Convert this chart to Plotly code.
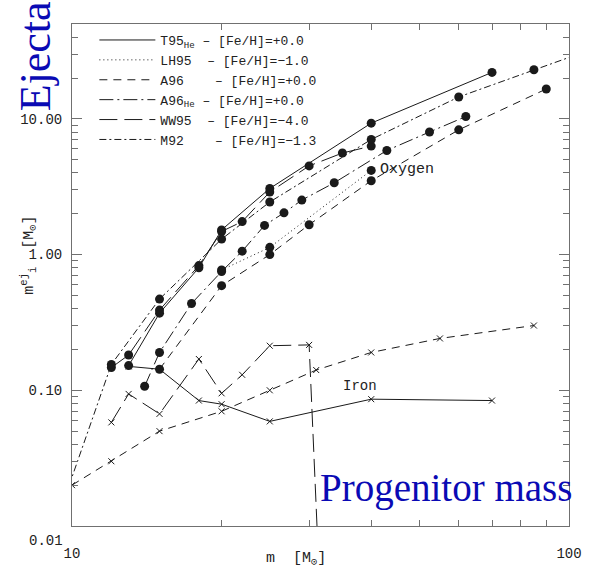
import plotly.graph_objects as go

# ---- oxygen ejecta (filled circles) ----
t95he_o_m = [13, 15, 18, 20, 25, 40, 70]
t95he_o_y = [0.152, 0.37, 0.80, 1.52, 3.07, 9.3, 22.0]

lh95_o_m = [20, 25, 40]
lh95_o_y = [0.77, 1.13, 4.17]

a96_o_m = [15, 20, 25, 30, 40, 60, 90]
a96_o_y = [0.143, 0.59, 1.0, 1.66, 3.5, 8.3, 16.6]

a96he_o_m = [14, 15, 17.4, 20, 22, 24.4, 26.7, 29, 33.7, 43, 52.4, 62]
a96he_o_y = [0.107, 0.19, 0.436, 0.75, 1.06, 1.64, 2.03, 2.52, 3.38, 5.85, 8.0, 10.4]

ww95_o_m = [12, 13, 15, 18, 20, 22, 25, 30, 35, 40]
ww95_o_y = [0.147, 0.182, 0.39, 0.83, 1.48, 1.75, 2.89, 4.5, 5.6, 6.3]

m92_o_m = [9, 12, 15, 20, 25, 40, 60, 85, 120]
m92_o_y = [0.0076, 0.155, 0.47, 1.30, 2.44, 7.05, 14.5, 23.0, 36.0]

# ---- iron ejecta (crosses) ----
t95he_fe_m = [13, 15, 18, 20, 25, 40, 70]
t95he_fe_y = [0.150, 0.143, 0.084, 0.079, 0.059, 0.086, 0.084]

a96_fe_m = [10, 12, 15, 20, 25, 31, 40, 55, 85]
a96_fe_y = [0.020, 0.030, 0.050, 0.070, 0.100, 0.141, 0.19, 0.241, 0.30]

ww95_fe_m = [12, 13, 15, 18, 20, 22, 25, 30, 35]
ww95_fe_y = [0.058, 0.094, 0.067, 0.17, 0.095, 0.13, 0.213, 0.216, 5e-7]

# ---- legend labels and line styles ----
NB = "\u00a0"
legend_labels = [
    "T95<sub>He</sub>" + NB + "–" + NB + "[Fe/H]=+0.0",
    "LH95" + NB * 2 + "–" + NB + "[Fe/H]=−1.0",
    "A96" + NB * 4 + "–" + NB + "[Fe/H]=+0.0",
    "A96<sub>He</sub>" + NB + "–" + NB + "[Fe/H]=+0.0",
    "WW95" + NB * 2 + "–" + NB + "[Fe/H]=−4.0",
    "M92" + NB * 4 + "–" + NB + "[Fe/H]=−1.3",
]
dashes = [
    "solid",
    "1px,3px",
    "8px,6px",
    "14px,4px,2px,4px",
    "18px,7px",
    "7px,3px,2px,3px",
]

INK = "#1a1a1a"
TXT = "#222222"
BLUE = "#0a0ab4"
MONO = "Liberation Mono, Courier New, monospace"
SERIF = "Liberation Serif, Times New Roman, serif"

fig = go.Figure()

oxygen = [
    (t95he_o_m, t95he_o_y),
    (lh95_o_m, lh95_o_y),
    (a96_o_m, a96_o_y),
    (a96he_o_m, a96he_o_y),
    (ww95_o_m, ww95_o_y),
    (m92_o_m, m92_o_y),
]
iron = {
    0: (t95he_fe_m, t95he_fe_y),
    2: (a96_fe_m, a96_fe_y),
    4: (ww95_fe_m, ww95_fe_y),
}

for i, (mx, my) in enumerate(oxygen):
    fig.add_trace(go.Scatter(
        x=mx, y=my, mode="lines+markers", showlegend=False,
        line=dict(color=INK, width=1, dash=dashes[i]),
        marker=dict(symbol="circle", size=9, color=INK),
    ))

for i, (mx, my) in iron.items():
    fig.add_trace(go.Scatter(
        x=mx, y=my, mode="lines+markers", showlegend=False,
        line=dict(color=INK, width=1, dash=dashes[i]),
        marker=dict(symbol="x-thin", size=6, color=INK,
                    line=dict(color=INK, width=1)),
    ))

# legend entries (line samples only)
for i, lab in enumerate(legend_labels):
    fig.add_trace(go.Scatter(
        x=[None], y=[None], mode="lines", name=lab,
        line=dict(color=INK, width=1, dash=dashes[i]),
    ))

axis_col = "#707070"
fig.update_xaxes(
    type="log", range=[1, 2],
    tickvals=[10, 100], ticktext=["10", "100"],
    ticks="inside", ticklen=10, tickcolor=axis_col, tickwidth=1,
    minor=dict(ticks="inside", ticklen=6, tickcolor=axis_col,
               tickvals=[20, 30, 40, 50, 60, 70, 80, 90]),
    showline=True, linecolor=axis_col, linewidth=1, mirror="allticks",
    showgrid=False, zeroline=False,
    tickfont=dict(family=MONO, size=14, color=TXT),
    ticklabelstandoff=14,
)

y_minor = [k * d for d in (0.01, 0.1, 1, 10) for k in range(2, 10) if k * d <= 50]
fig.update_yaxes(
    type="log", range=[-2, 1.69897],
    tickvals=[0.1, 1, 10], ticktext=["0.10", "1.00", "10.00"],
    ticks="inside", ticklen=10, tickcolor=axis_col, tickwidth=1,
    minor=dict(ticks="inside", ticklen=6, tickcolor=axis_col, tickvals=y_minor),
    showline=True, linecolor=axis_col, linewidth=1, mirror="allticks",
    showgrid=False, zeroline=False,
    tickfont=dict(family=MONO, size=14, color=TXT),
    ticklabelstandoff=6,
)

annotations = [
    dict(text="0.01", xref="paper", yref="paper", x=0, y=0, xanchor="right",
         yanchor="middle", xshift=-7, yshift=-15, showarrow=False,
         font=dict(family=MONO, size=14, color=TXT)),
    dict(text="Oxygen", x=1.616, y=0.625, xref="x", yref="y", xanchor="left",
         yanchor="middle", showarrow=False,
         font=dict(family=MONO, size=15, color=TXT)),
    dict(text="Iron", x=1.5406, y=-0.971, xref="x", yref="y", xanchor="left",
         yanchor="middle", showarrow=False,
         font=dict(family=MONO, size=14, color=TXT)),
    dict(text="m" + NB * 2 + "[M<sub>⊙</sub>]", xref="paper", yref="paper",
         x=0.45, y=-0.066, xanchor="center", yanchor="middle", showarrow=False,
         font=dict(family=MONO, size=15, color=TXT)),
    dict(text="m<sup>ej</sup><sub>i</sub>" + NB * 2 + "[M<sub>⊙</sub>]",
         xref="paper", yref="paper", x=-0.087, y=0.54, textangle=-90,
         xanchor="center", yanchor="middle",
         showarrow=False, font=dict(family=MONO, size=15, color=TXT)),
    dict(text="Ejecta", xref="paper", yref="paper", x=-0.073, y=0.935,
         textangle=-90, xanchor="center", yanchor="middle", showarrow=False,
         font=dict(family=SERIF, size=44, color=BLUE)),
    dict(text="Progenitor mass", xref="paper", yref="paper", x=0.495, y=0.075,
         xanchor="left", yanchor="middle", showarrow=False,
         font=dict(family=SERIF, size=39, color=BLUE)),
]

fig.update_layout(
    width=594, height=574,
    margin=dict(l=72, r=17, t=24, b=44),
    paper_bgcolor="white", plot_bgcolor="white",
    showlegend=True,
    legend=dict(x=0.045, y=0.998, xanchor="left", yanchor="top",
                bgcolor="rgba(0,0,0,0)", itemwidth=56,
                font=dict(family=MONO, size=13, color=TXT),
                tracegroupgap=0),
    annotations=annotations,
)

fig.write_html("out.html")
